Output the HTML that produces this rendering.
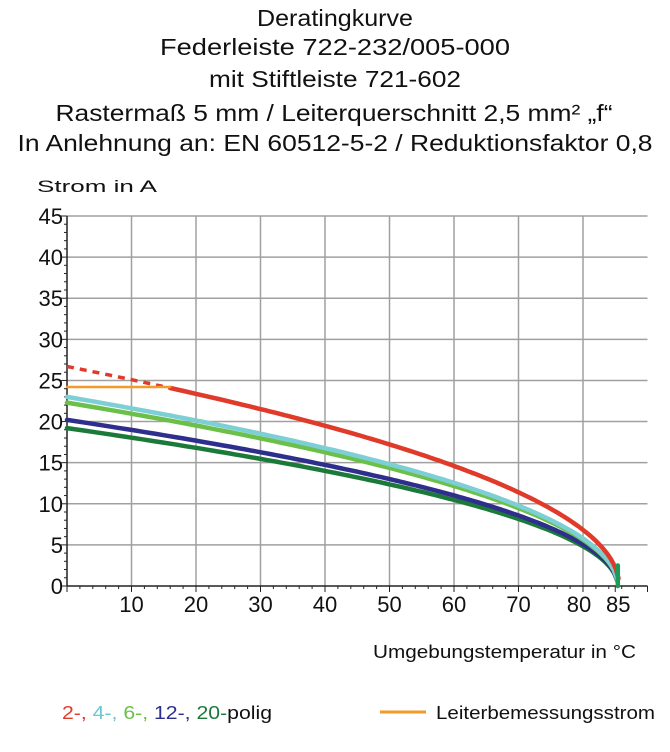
<!DOCTYPE html>
<html><head><meta charset="utf-8"><style>
html,body{margin:0;padding:0;background:#fff;}
svg{display:block;font-family:"Liberation Sans",sans-serif;}
</style></head><body>
<svg id="s" width="670" height="752" viewBox="0 0 670 752" xmlns="http://www.w3.org/2000/svg">
<g font-size="23" fill="#111" text-anchor="middle">
<text x="335" y="26" textLength="156" lengthAdjust="spacingAndGlyphs">Deratingkurve</text>
<text x="335" y="55" textLength="350" lengthAdjust="spacingAndGlyphs">Federleiste 722-232/005-000</text>
<text x="335" y="87" textLength="252" lengthAdjust="spacingAndGlyphs">mit Stiftleiste 721-602</text>
<text x="334" y="121" textLength="557" lengthAdjust="spacingAndGlyphs">Rastermaß 5 mm / Leiterquerschnitt 2,5 mm² „f“</text>
<text x="335" y="151" textLength="635" lengthAdjust="spacingAndGlyphs">In Anlehnung an: EN 60512-5-2 / Reduktionsfaktor 0,8</text>
</g>
<text x="37" y="192" font-size="17" fill="#111" textLength="120" lengthAdjust="spacingAndGlyphs">Strom in A</text>
<g id="grid" stroke="#a0a0a0" stroke-width="1.5"></g>
<g id="axes" stroke="#222" stroke-width="1.5"></g>
<g id="ylab" font-size="22" fill="#111" text-anchor="end"></g>
<g id="xlab" font-size="22" fill="#111" text-anchor="middle"></g>
<g id="curves" fill="none" stroke-width="4.5" stroke-linecap="round"></g>
<text x="373" y="658" font-size="18" fill="#111" textLength="263" lengthAdjust="spacingAndGlyphs">Umgebungstemperatur in °C</text>
<text x="62" y="719" font-size="18" textLength="210" lengthAdjust="spacingAndGlyphs"><tspan fill="#e03a2a">2-, </tspan><tspan fill="#6cc8d0">4-, </tspan><tspan fill="#6cc04a">6-, </tspan><tspan fill="#2e2e8c">12-, </tspan><tspan fill="#1b7a3a">20-</tspan><tspan fill="#111">polig</tspan></text>
<line x1="380" y1="712" x2="426" y2="712" stroke="#f39a2a" stroke-width="3"/>
<text x="436" y="719" font-size="18" fill="#111" textLength="219" lengthAdjust="spacingAndGlyphs">Leiterbemessungsstrom</text>
</svg>
<script>
var NS="http://www.w3.org/2000/svg";
function X(t){return 67+6.45*t;}
function Y(i){return 586-i*(370/45);}
function el(p,n,a,txt){var e=document.createElementNS(NS,n);for(var k in a)e.setAttribute(k,a[k]);if(txt!=null)e.textContent=txt;document.getElementById(p).appendChild(e);return e;}
var xr=X(90);
for(var i=5;i<=45;i+=5)el("grid","line",{x1:67,y1:Y(i),x2:xr,y2:Y(i)});
for(var t=10;t<=80;t+=10)el("grid","line",{x1:X(t),y1:Y(0),x2:X(t),y2:Y(45)});
el("axes","line",{x1:67,y1:Y(0),x2:xr,y2:Y(0)});
el("axes","line",{x1:67,y1:Y(0),x2:67,y2:Y(45)});
for(var i=0;i<=45;i++)el("axes","line",{x1:67,y1:Y(i),x2:(i%5?64:61),y2:Y(i),"stroke-width":1});
for(var t=0;t<=90;t+=2)el("axes","line",{x1:X(t),y1:Y(0),x2:X(t),y2:Y(0)+((t%10)?3:6),"stroke-width":1});
el("axes","line",{x1:X(85),y1:Y(0),x2:X(85),y2:Y(0)+6,"stroke-width":1});
for(var i=0;i<=45;i+=5)el("ylab","text",{x:63,y:Y(i)+8},String(i));
[10,20,30,40,50,60,70].forEach(function(t){el("xlab","text",{x:X(t),y:612},String(t));});
el("xlab","text",{x:X(80)-4,y:612},"80");
el("xlab","text",{x:X(85)+3,y:612},"85");
function path(I0,t0,t1,tm){var d="";var n=120;for(var k=0;k<=n;k++){var t=t0+(t1-t0)*Math.pow(k/n,0.7);var v=I0*Math.sqrt(Math.max(0,1-t/tm));d+=(k?"L":"M")+X(t).toFixed(1)+","+Y(v).toFixed(1);}return d;}
var cs=[[19.2,"#1b7a3a"],[20.2,"#2e2e8c"],[22.3,"#6cc04a"],[23.0,"#7ccfd4"]];
cs.forEach(function(c){el("curves","path",{d:path(c[0],0,85.3,85.4),stroke:c[1]});});
el("curves","path",{d:path(26.7,16,85.5,85.6),stroke:"#e03a2a"});
el("curves","path",{d:path(26.7,0,16,85.6),stroke:"#e03a2a","stroke-dasharray":"7 6","stroke-width":3.5,"stroke-linecap":"butt"});
el("curves","line",{x1:67,y1:Y(24.2),x2:X(16),y2:Y(24.2),stroke:"#f39a2a","stroke-width":2.5});
el("curves","line",{x1:X(85.4),y1:Y(0),x2:X(85.4),y2:Y(2.5),stroke:"#1b9a5a","stroke-width":4.5});
</script>
</body></html>
